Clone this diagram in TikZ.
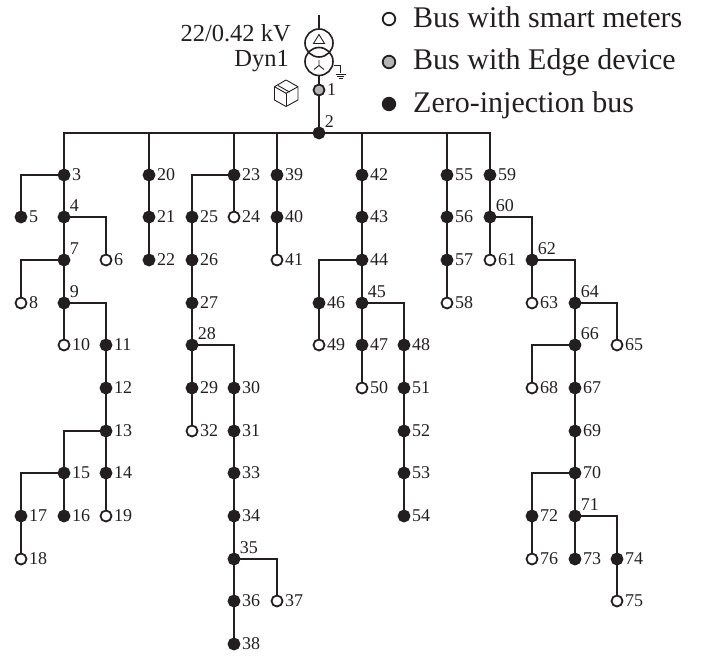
\documentclass[tikz,border=0pt]{standalone}
\usepackage{fontspec}
\setmainfont{Liberation Serif}
\definecolor{inkblack}{HTML}{231F20}
\definecolor{edgegray}{HTML}{B5B5B5}
\tikzset{
  bus/.style={circle,draw=inkblack,line width=1.8pt,minimum size=11pt,inner sep=0pt},
  zerobus/.style={bus,fill=inkblack},
  meterbus/.style={bus,fill=white},
  edgebus/.style={bus,fill=edgegray},
  legendbus/.style={minimum size=12.5pt},
  buslabel/.style={text=inkblack,font=\fontsize{18}{18}\selectfont,inner sep=0pt,label distance=1.5pt},
  legendtext/.style={text=inkblack,font=\fontsize{30}{30}\selectfont,anchor=base west,inner sep=0pt},
  trafotext/.style={text=inkblack,font=\fontsize{24.5}{24.5}\selectfont,anchor=base east,inner sep=0pt},
  winding/.style={circle,draw=inkblack,line width=1.6pt,minimum size=28pt,inner sep=0pt},
  feeder/.style={draw=inkblack,line width=1.8pt},
  thinline/.style={draw=inkblack,line width=0.9pt},
}
\begin{document}
\begin{tikzpicture}[x=1pt,y=-1pt]
\useasboundingbox (0,0) rectangle (715,658);
% buses with the number on their right
\foreach \n/\x/\y in {3/64/175,20/149/175,39/277/175,42/362/175,55/447/175,59/490/175,23/234/175,
5/21/217,21/149/217,25/192/217,40/277/217,43/362/217,56/447/217,26/192/260,22/149/260,44/362/260,57/447/260,
27/192/303,46/319/303,11/106/345,47/362/345,48/404/345,12/106/388,29/192/388,30/234/388,51/404/388,67/575/388,
13/106/431,31/234/431,52/404/431,69/575/431,14/106/473,15/64/473,33/234/473,53/404/473,70/575/473,
16/64/516,17/21/516,34/234/516,54/404/516,72/532/516,73/575/559,74/617/559,36/234/601,38/234/644} {
\node[zerobus,label={[buslabel]right:\n}] (b\n) at (\x,\y) {};
}
% buses with the number above
\foreach \n/\x/\y in {2/319/133,4/64/217,7/64/260,9/64/303,28/192/345,35/234/559,
45/362/303,60/490/217,62/532/260,64/575/303,66/575/345,71/575/516} {
\node[zerobus,label={[buslabel]45:\n}] (b\n) at (\x,\y) {};
}
% smart meters
\foreach \n/\x/\y in {6/106/260,8/21/303,10/64/345,18/21/559,19/106/516,24/234/217,32/192/431,37/277/601,
41/277/260,49/319/345,50/362/388,58/447/303,61/490/260,63/532/303,65/617/345,68/532/388,75/617/601,76/532/559} {
\node[meterbus,label={[buslabel]right:\n}] (b\n) at (\x,\y) {};
}
\node[edgebus,label={[buslabel]right:1}] (b1) at (319,90) {};
% straight feeders
\foreach \a/\b in {1/2,3/4,4/7,7/9,9/10,11/12,12/13,13/14,14/19,15/16,17/18,20/21,21/22,23/24,25/26,26/27,27/28,28/29,
29/32,30/31,31/33,33/34,34/35,35/36,36/38,39/40,40/41,42/43,43/44,44/45,45/47,47/50,46/49,48/51,51/52,52/53,53/54,
55/56,56/57,57/58,59/60,60/61,62/63,64/66,66/67,67/69,69/70,70/71,71/73,72/76,74/75} {
\draw[feeder] (b\a) -- (b\b);
}
% laterals
\foreach \a/\b in {2/3,2/20,2/23,2/39,2/42,2/55,2/59,3/5,4/6,7/8,9/11,13/15,15/17,23/25,28/30,35/37,44/46,45/48,
60/62,62/64,64/65,66/68,70/72,71/74} {
\draw[feeder] (b\a) -| (b\b);
}
% transformer
\node[winding] (t1) at (319,43) {};
\node[winding] (t2) at (319,61.5) {};
\coordinate (hv) at (319,15);
\coordinate (gnd) at (340.5,73.5);
\draw[feeder] (hv) -- (t1);
\draw[feeder] (t2) -- (b1);
\draw[thinline] (319,34.5) -- (313.5,43.5) -- (324.5,43.5) -- cycle;
\draw[thinline] (319,60) -- (319,65.5) -- (314,69.5);
\draw[thinline] (319,65.5) -- (324,69.5);
\draw[thinline] (t2.east |- 0,65.5) -| (gnd);
\draw[thinline] (335.5,74) -- (345.5,74);
\draw[thinline] (337,76) -- (344,76);
\draw[thinline] (338.5,78) -- (342.5,78);
% edge device
\draw[thinline,line join=round] (286,80) -- (298,86.7) -- (298,100) -- (286,106.5) -- (274.5,100) -- (274.5,86.7) -- cycle;
\draw[thinline] (274.5,86.7) -- (286,93.3) -- (298,86.7);
\draw[thinline] (286,93.3) -- (286,106.5);
\draw[thinline] (278,85.5) -- (289.5,92);
% texts
\node[trafotext] (ratio) at (291,42) {22/0.42 kV};
\node[trafotext] (group) at (289,67) {Dyn1};
\node[meterbus,legendbus] (k1) at (389,19) {};
\node[edgebus,legendbus] (k2) at (389,62) {};
\node[zerobus,legendbus] (k3) at (389,104) {};
\node[legendtext] (t-k1) at (413,28) {Bus with smart meters};
\node[legendtext] (t-k2) at (413,70) {Bus with Edge device};
\node[legendtext] (t-k3) at (413,113) {Zero-injection bus};
\end{tikzpicture}
\end{document}
